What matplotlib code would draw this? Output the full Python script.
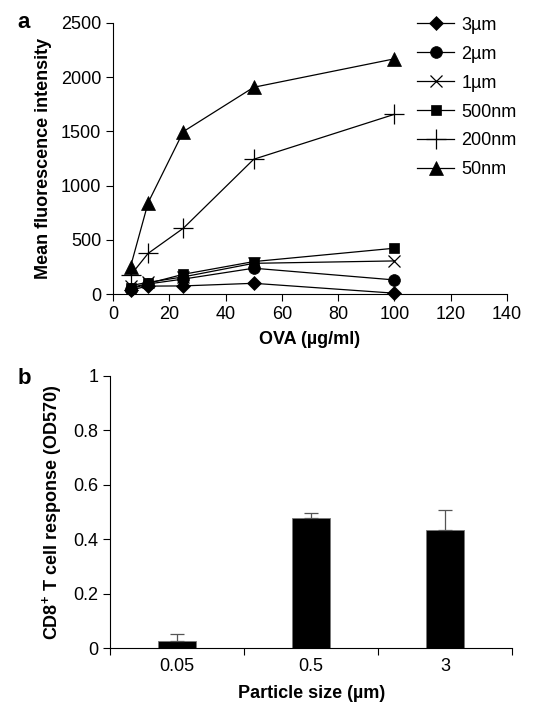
import matplotlib
matplotlib.use("Agg")
from matplotlib import pyplot as plt

plt.rcParams["font.family"] = ["Liberation Sans", "DejaVu Sans"]
plt.rcParams["font.size"] = 13
plt.rcParams["mathtext.fontset"] = "custom"
plt.rcParams["mathtext.rm"] = "Liberation Sans"
plt.rcParams["mathtext.bf"] = "Liberation Sans:bold"

# panel a: OVA dose vs MFI per particle size
ova = [6.25, 12.5, 25, 50, 100]
mfi_3um = [40, 75, 77, 101, 10]
mfi_2um = [50, 95, 140, 240, 132]
mfi_1um = [80, 110, 160, 285, 307]
mfi_500nm = [60, 100, 184, 301, 424]
mfi_200nm = [175, 377, 608, 1243, 1657]
mfi_50nm = [255, 844, 1498, 1906, 2168]
series_names = ["3\u00b5m", "2\u00b5m", "1\u00b5m", "500nm", "200nm", "50nm"]

# panel b: CD8+ T cell response by particle size
sizes = ["0.05", "0.5", "3"]
od570 = [0.028, 0.477, 0.435]
od570_err = [0.025, 0.019, 0.071]

fig = plt.figure(figsize=(5.37, 7.12), dpi=100)

ax1 = fig.add_axes([0.2104, 0.5867, 0.7336, 0.3813])
styles = [
    ("D", 7, True),
    ("o", 8.5, True),
    ("x", 8.5, False),
    ("s", 6.5, True),
    ("+", 14.5, False),
    ("^", 10, True),
]
all_vals = [mfi_3um, mfi_2um, mfi_1um, mfi_500nm, mfi_200nm, mfi_50nm]
for vals, name, (m, ms, filled) in zip(all_vals, series_names, styles):
    ax1.plot(ova, vals, color="k", lw=0.9, marker=m, markersize=ms,
             markerfacecolor="k", markeredgecolor="k",
             markeredgewidth=0.5 if filled else 0.9, label=name,
             clip_on=False)
ax1.set_xlim(0, 140)
ax1.set_ylim(0, 2500)
ax1.set_xticks(range(0, 141, 20))
ax1.set_yticks(range(0, 2501, 500))
ax1.spines["top"].set_visible(False)
ax1.spines["right"].set_visible(False)
ax1.tick_params(direction="out", length=5, width=0.8, labelsize=13)
ax1.set_xlabel("OVA (\u00b5g/ml)", fontweight="bold", fontsize=13, labelpad=6)
ax1.set_ylabel("Mean fluorescence intensity", fontweight="bold", fontsize=13)
ax1.yaxis.set_label_coords(-0.155, 0.5)
ax1.legend(loc="upper left", bbox_to_anchor=(0.772, 1.022), frameon=False,
           borderaxespad=0, borderpad=0, handlelength=2.05, labelspacing=0.66,
           fontsize=13, handletextpad=0.4)
fig.text(0.0447, 0.968, "a", fontweight="bold", fontsize=16, va="center", ha="center")

ax2 = fig.add_axes([0.2048, 0.0895, 0.7492, 0.3828])
pos = list(range(len(sizes)))
ax2.bar(pos, od570, width=0.28, color="k", edgecolor="#777777", linewidth=0.6,
        yerr=[[0] * len(od570), od570_err], ecolor="#555555",
        error_kw=dict(capsize=5, elinewidth=0.9, capthick=0.9))
ax2.set_xlim(-0.5, 2.5)
ax2.set_ylim(0, 1)
ax2.set_yticks([0, 0.2, 0.4, 0.6, 0.8, 1])
ax2.set_yticklabels(["0", "0.2", "0.4", "0.6", "0.8", "1"])
ax2.set_xticks(pos)
ax2.set_xticklabels(sizes)
ax2.set_xticks([-0.5, 0.5, 1.5, 2.5], minor=True)
ax2.tick_params(axis="x", which="major", length=0, pad=7, labelsize=13)
ax2.tick_params(axis="x", which="minor", direction="out", length=5, width=0.8)
ax2.tick_params(axis="y", direction="out", length=5, width=0.8, labelsize=13)
ax2.spines["top"].set_visible(False)
ax2.spines["right"].set_visible(False)
ax2.set_xlabel("Particle size (\u00b5m)", fontweight="bold", fontsize=13, labelpad=7)
ax2.set_ylabel(r"CD8$^{\mathbf{+}}$ T cell response (OD570)", fontweight="bold",
               fontsize=13)
ax2.yaxis.set_label_coords(-0.114, 0.50)
fig.text(0.0447, 0.469, "b", fontweight="bold", fontsize=16, va="center", ha="center")

fig.savefig("out.png", dpi=100)
